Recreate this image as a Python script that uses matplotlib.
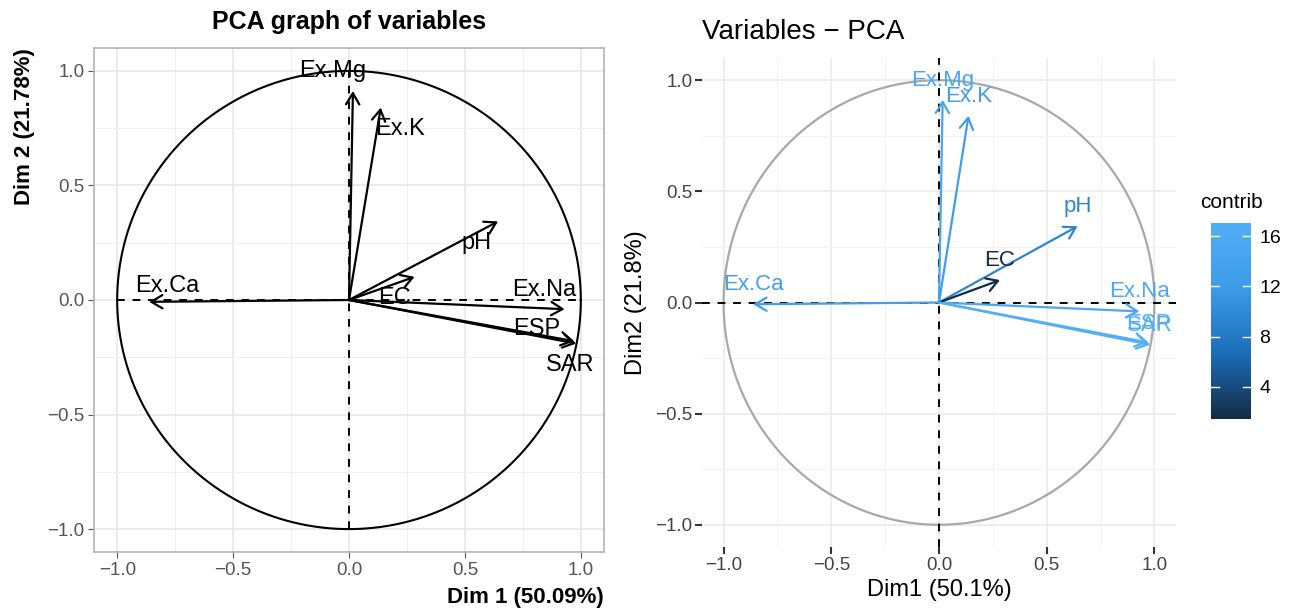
import numpy as np
import matplotlib.pyplot as plt
from matplotlib.colors import LinearSegmentedColormap, Normalize
from matplotlib.ticker import MultipleLocator

plt.rcParams['font.family'] = ['Liberation Sans', 'DejaVu Sans']

# ==========================================
# data: PCA variable coordinates (Dim1, Dim2) and contribution
# ==========================================
variables = ['Ex.Ca', 'Ex.Mg', 'Ex.K', 'Ex.Na', 'pH', 'EC', 'ESP', 'SAR']
dim1 = [-0.862, 0.017, 0.137, 0.930, 0.643, 0.283, 0.972, 0.980]
dim2 = [-0.008, 0.912, 0.840, -0.040, 0.343, 0.101, -0.180, -0.190]
contrib = [13.0, 14.6, 12.5, 15.2, 9.3, 1.45, 17.0, 17.05]

# label positions used by FactoMineR (repelled)
lab_x = [-0.784, -0.071, 0.222, 0.841, 0.551, 0.195, 0.810, 0.953]
lab_y = [0.063, 1.000, 0.746, 0.042, 0.247, 0.010, -0.125, -0.282]

contrib_ticks = [4, 8, 12, 16]

W, H = 1296, 609
fig = plt.figure(figsize=(W / 100, H / 100), dpi=100)


def box(l, t, r, b):
    return [l / W, 1 - b / H, (r - l) / W, (b - t) / H]


# blue gradient as seen in the picture (dark navy -> vivid blue -> light blue)
cmap = LinearSegmentedColormap.from_list('contrib', ['#132B43', '#1d6db8', '#3d9be9', '#52aef6'])
norm = Normalize(vmin=min(contrib), vmax=max(contrib))

theta = np.linspace(0, 2 * np.pi, 400)
tick_gray = '#555555'
minus = lambda v, p: f'{v:.1f}'.replace('-', '\u2212')

# ==========================================
# left: FactoMineR style
# ==========================================
ax1 = fig.add_axes(box(94, 48, 604, 552))
ax1.set_xlim(-1.1, 1.1)
ax1.set_ylim(-1.1, 1.1)
ax1.xaxis.set_major_locator(MultipleLocator(0.5))
ax1.yaxis.set_major_locator(MultipleLocator(0.5))
ax1.xaxis.set_minor_locator(MultipleLocator(0.25))
ax1.yaxis.set_minor_locator(MultipleLocator(0.25))
ax1.grid(which='major', color='#e6e6e6', lw=1.1)
ax1.grid(which='minor', color='#f0f0f0', lw=0.8)
ax1.set_axisbelow(True)
for s in ax1.spines.values():
    s.set_color('#b3b3b3')
    s.set_linewidth(1.2)
ax1.tick_params(which='major', length=4, color='#555555', labelsize=13.5, labelcolor=tick_gray, pad=3)
ax1.tick_params(which='minor', length=0)
ax1.xaxis.set_major_formatter(minus)
ax1.yaxis.set_major_formatter(minus)

ax1.plot(np.cos(theta), np.sin(theta), color='black', lw=1.5)
ax1.plot([-1, 1], [0, 0], color='black', lw=1.4, ls=(0, (4, 4)))
ax1.plot([0, 0], [-1, 1], color='black', lw=1.4, ls=(0, (4, 4)))
for v, x, y, lx, ly in zip(variables, dim1, dim2, lab_x, lab_y):
    ax1.annotate('', xy=(x, y), xytext=(0, 0),
                 arrowprops=dict(arrowstyle='->,head_length=0.5,head_width=0.3', lw=1.6,
                                 color='black', shrinkA=0, shrinkB=0, mutation_scale=16))
    ax1.text(lx, ly, v, fontsize=17, ha='center', va='center', color='black')

fig.text(349 / W, 1 - 22 / H, 'PCA graph of variables', fontsize=18, fontweight='bold',
         ha='center', va='center')
fig.text(604 / W, 1 - 598 / H, 'Dim 1 (50.09%)', fontsize=16, fontweight='bold',
         ha='right', va='center')
fig.text(25 / W, 1 - 48 / H, 'Dim 2 (21.78%)', fontsize=16, fontweight='bold',
         ha='center', va='top', rotation=90)

# ==========================================
# right: factoextra style, coloured by contrib
# ==========================================
ax2 = fig.add_axes(box(702, 58, 1176, 547))
ax2.set_xlim(-1.1, 1.1)
ax2.set_ylim(-1.1, 1.1)
ax2.xaxis.set_major_locator(MultipleLocator(0.5))
ax2.yaxis.set_major_locator(MultipleLocator(0.5))
ax2.xaxis.set_minor_locator(MultipleLocator(0.25))
ax2.yaxis.set_minor_locator(MultipleLocator(0.25))
ax2.grid(which='major', color='#ebebeb', lw=1.2)
ax2.grid(which='minor', color='#f3f3f3', lw=0.8)
ax2.set_axisbelow(True)
for s in ax2.spines.values():
    s.set_visible(False)
ax2.tick_params(which='major', length=5, width=1.5, color='#333333', labelsize=13.5,
                labelcolor='#444444', pad=2)
ax2.tick_params(which='minor', length=0)
ax2.xaxis.set_major_formatter(minus)
ax2.yaxis.set_major_formatter(minus)

ax2.plot(np.cos(theta), np.sin(theta), color='#a8a8a8', lw=1.6)
ax2.axhline(0, color='black', lw=1.4, ls=(0, (4, 4)))
ax2.axvline(0, color='black', lw=1.4, ls=(0, (4, 4)))
for v, x, y, c in zip(variables, dim1, dim2, contrib):
    col = cmap(norm(c))
    ax2.annotate('', xy=(x, y), xytext=(0, 0),
                 arrowprops=dict(arrowstyle='->,head_length=0.5,head_width=0.3', lw=1.6,
                                 color=col, shrinkA=0, shrinkB=0, mutation_scale=16))
    ax2.annotate(v, xy=(x, y), xytext=(0, 14), textcoords='offset points',
                 fontsize=16, ha='center', va='center', color=col)

fig.text(702 / W, 1 - 32 / H, 'Variables \u2212 PCA', fontsize=20, ha='left', va='center')
ax2.set_xlabel('Dim1 (50.1%)', fontsize=17, labelpad=4)
ax2.set_ylabel('Dim2 (21.8%)', fontsize=17, labelpad=6)

# colour bar
cax = fig.add_axes(box(1211, 223, 1251, 419))
grad = np.linspace(min(contrib), max(contrib), 256).reshape(-1, 1)
cax.imshow(grad, aspect='auto', cmap=cmap, norm=norm, origin='lower',
           extent=[0, 1, min(contrib), max(contrib)])
cax.set_xlim(0, 1)
cax.set_ylim(min(contrib), max(contrib))
for t in contrib_ticks:
    cax.plot([0, 0.2], [t, t], color='white', lw=1)
    cax.plot([0.8, 1], [t, t], color='white', lw=1)
cax.set_xticks([])
cax.yaxis.tick_right()
cax.set_yticks(contrib_ticks)
cax.tick_params(axis='y', length=0, labelsize=14, pad=6)
for s in cax.spines.values():
    s.set_visible(False)
fig.text(1200 / W, 1 - 203 / H, 'contrib', fontsize=15, ha='left', va='center')

plt.savefig('out.png', dpi=100)
